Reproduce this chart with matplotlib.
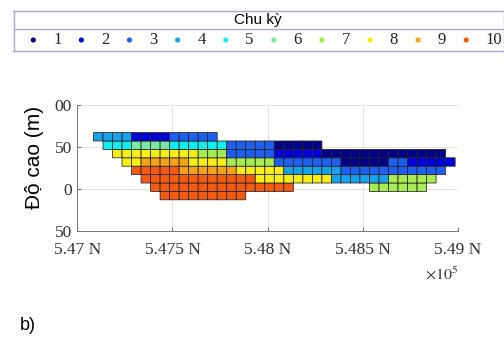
import numpy as np
import matplotlib
matplotlib.use("Agg")
import matplotlib.pyplot as plt
from matplotlib.colors import ListedColormap, BoundaryNorm

plt.rcParams["mathtext.fontset"] = "stix"

# cycles (Chu kỳ) and their colours (jet, 10 levels)
periods = list(range(1, 11))
period_colors = ["#000088", "#0000dc", "#1f5ff0", "#18a2ec", "#12eeee",
                 "#78eaa6", "#a6ec52", "#f6ee14", "#f6a218", "#f45a12"]

# block model: 50 m x 10 m cells
x0 = 547085.0
cell_w = 50.0
y_bottom = -12.5
cell_h = 10.0
n_cols = 38

# rows listed top to bottom: first column, then runs of (cycle, number of cells); 0 = no block
row_start = [0, 1, 2, 3, 4, 5, 6, 7]
row_runs = [
    [(4, 4), (2, 4), (3, 5)],
    [(5, 3), (6, 4), (5, 6), (3, 5), (1, 5)],
    [(8, 9), (7, 3), (3, 5), (2, 5), (1, 13)],
    [(8, 2), (9, 5), (8, 4), (7, 5), (3, 7), (1, 5), (3, 2), (2, 5)],
    [(10, 5), (9, 6), (8, 5), (4, 6), (3, 11)],
    [(10, 12), (8, 8), (4, 6), (7, 5)],
    [(10, 15), (0, 8), (7, 6)],
    [(10, 9)],
]

x_ticks = [547000, 547500, 548000, 548500, 549000]
y_ticks = [-50, 0, 50, 100]
y_tick_labels = ["50", "0", "50", "00"]

# build the cycle grid
grid = np.full((len(row_runs), n_cols), np.nan)
for r, (c, runs) in enumerate(zip(row_start, row_runs)):
    for val, cnt in runs:
        if val:
            grid[r, c:c + cnt] = val
        c += cnt
grid = np.ma.masked_invalid(grid[::-1])
x_edges = x0 + cell_w * np.arange(n_cols + 1)
y_edges = y_bottom + cell_h * np.arange(len(row_runs) + 1)

fig = plt.figure(figsize=(5.04, 3.43), dpi=100)
ax = fig.add_axes([0.1534, 0.3257, 0.7553, 0.3673])

cmap = ListedColormap(period_colors)
norm = BoundaryNorm(np.arange(0.5, 11.5, 1), cmap.N)
ax.pcolor(x_edges, y_edges, grid, cmap=cmap, norm=norm,
          edgecolors="#222222", linewidth=0.55, zorder=2)

ax.set_xlim(547000, 549000)
ax.set_ylim(-50, 100)
ax.set_xticks(x_ticks)
ax.set_xticklabels([f"{v / 1e5:g} N" for v in x_ticks])
ax.set_yticks(y_ticks)
ax.set_yticklabels(y_tick_labels)
for lab in ax.get_xticklabels() + ax.get_yticklabels():
    lab.set_family("Liberation Serif")
    lab.set_fontsize(12.5)
    lab.set_color("#333333")
ax.tick_params(direction="in", length=3, width=0.6, color="#555555", pad=4)
ax.tick_params(axis="x", pad=8)
ax.grid(True, color="#e2e2e2", linewidth=0.7, zorder=0)
ax.set_axisbelow(True)
for side in ["top", "right"]:
    ax.spines[side].set_visible(False)
for side in ["left", "bottom"]:
    ax.spines[side].set_color("#777777")
    ax.spines[side].set_linewidth(0.7)

ax.text(1.0, -0.34, r"$\times10^{5}$", transform=ax.transAxes,
        ha="right", va="center", fontsize=11.5, color="#333333")

fig.text(34 / 504, 1 - 157 / 343, "Độ cao (m)", rotation=90,
         ha="center", va="center", fontsize=15, family="Liberation Sans")
fig.text(20 / 504, 1 - 325 / 343, "b)", ha="left", va="center",
         fontsize=13, family="Liberation Sans")

# legend box: title row and one row of cycle markers
lax = fig.add_axes([13.5 / 504, 1 - 50.5 / 343, 490 / 504, 40 / 343])
lax.set_xlim(13.5, 503.5)
lax.set_ylim(50.5, 10.5)
lax.set_xticks([])
lax.set_yticks([])
for s in lax.spines.values():
    s.set_color("#a8a8d0")
    s.set_linewidth(1.0)
lax.axhline(29.3, color="#a8a8d0", linewidth=1.0)
lax.text(258, 20, "Chu kỳ", ha="center", va="center", fontsize=11,
         family="Liberation Sans")
for i, p in enumerate(periods):
    lax.scatter(33.3 + 48.1 * i, 40, s=14, color=period_colors[p - 1],
                edgecolors="none")
    lax.text(53.0 + 48.1 * i, 40.5, str(p), ha="left", va="center",
             fontsize=12, family="Liberation Serif", color="#222222")

fig.savefig("out.png", dpi=100)
